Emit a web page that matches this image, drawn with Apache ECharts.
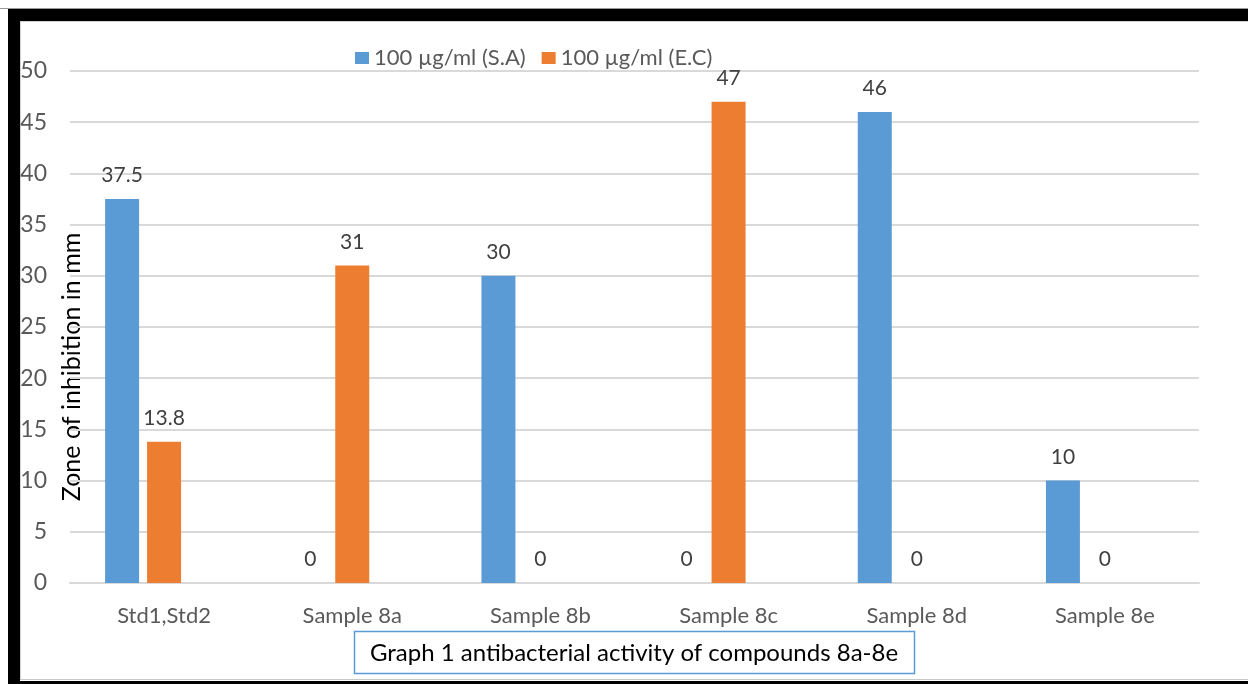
<!DOCTYPE html>
<html>
<head>
<meta charset="utf-8">
<script src="https://cdn.jsdelivr.net/npm/echarts@6/dist/echarts.min.js"></script>
<style>
html,body{margin:0;padding:0;background:#fff;}
#chart{width:1248px;height:684px;}
</style>
</head>
<body>
<div id="chart"></div>
<script>
const categories = ['Std1,Std2', 'Sample 8a', 'Sample 8b', 'Sample 8c', 'Sample 8d', 'Sample 8e'];
const seriesNames = ['100 µg/ml (S.A)', '100 µg/ml (E.C)'];
const saValues = [37.5, 0, 30, 0, 46, 10];
const ecValues = [13.8, 31, 0, 47, 0, 0];
const emptyValues = [null, null, null, null, null, null];
const yTicks = { min: 0, max: 50, interval: 5 };
const yAxisName = 'Zone of inhibition in mm';
const captionText = 'Graph 1 antibacterial activity of compounds 8a-8e';

const FONT = 'Lato, "Open Sans", sans-serif';
const chart = echarts.init(document.getElementById('chart'), null, { renderer: 'canvas' });

const labelCfg = {
  show: true, position: 'top', distance: 13,
  color: '#404040', fontSize: 21, fontFamily: FONT
};

chart.setOption({
  backgroundColor: '#ffffff',
  animation: false,
  grid: { left: 70, right: 49, top: 71, bottom: 101, containLabel: false },
  legend: {
    data: seriesNames,
    left: 350, top: 42,
    itemWidth: 14, itemHeight: 12, itemGap: 16,
    icon: 'rect',
    textStyle: { color: '#595959', fontSize: 22, fontFamily: FONT }
  },
  xAxis: {
    type: 'category',
    data: categories,
    axisLine: { show: true, lineStyle: { color: '#d9d9d9', width: 2 } },
    axisTick: { show: false },
    axisLabel: { color: '#595959', fontSize: 22, fontFamily: FONT, margin: 22 }
  },
  yAxis: {
    type: 'value',
    min: yTicks.min, max: yTicks.max, interval: yTicks.interval,
    axisLine: { show: false },
    axisTick: { show: false },
    splitLine: { lineStyle: { color: '#d9d9d9', width: 2 } },
    axisLabel: { color: '#595959', fontSize: 23, fontFamily: FONT, margin: 23 }
  },
  series: [
    { name: seriesNames[0], type: 'bar', data: saValues, barWidth: 34, barGap: '23.5%',
      itemStyle: { color: '#5B9BD5' }, label: labelCfg },
    { name: seriesNames[1], type: 'bar', data: ecValues, barWidth: 34, barGap: '23.5%',
      itemStyle: { color: '#ED7D31' }, label: labelCfg },
    { name: '', type: 'bar', data: emptyValues, barWidth: 34, barGap: '23.5%',
      itemStyle: { color: '#A5A5A5' }, label: { show: false } }
  ],
  graphic: [
    { type: 'rect', shape: { x: 0, y: 8, width: 1248, height: 1 }, style: { fill: '#9a9a9a' }, silent: true },
    { type: 'rect', shape: { x: 8, y: 9, width: 1240, height: 12 }, style: { fill: '#000' }, silent: true },
    { type: 'rect', shape: { x: 20, y: 21, width: 1228, height: 1 }, style: { fill: '#d0d0d0' }, silent: true },
    { type: 'rect', shape: { x: 8, y: 9, width: 12, height: 675 }, style: { fill: '#000' }, silent: true },
    { type: 'rect', shape: { x: 20, y: 21, width: 1, height: 659 }, style: { fill: '#d0d0d0' }, silent: true },
    { type: 'rect', shape: { x: 20, y: 679, width: 1228, height: 1 }, style: { fill: '#c8c8c8' }, silent: true },
    { type: 'rect', shape: { x: 8, y: 681, width: 1240, height: 3 }, style: { fill: '#000' }, silent: true },
    { type: 'text', rotation: Math.PI / 2, x: 72, y: 367,
      style: { text: yAxisName, fill: '#000', fontSize: 25, fontFamily: FONT, align: 'center', verticalAlign: 'middle' } },
    { type: 'rect', shape: { x: 354.5, y: 631.5, width: 560, height: 42 },
      style: { fill: '#fff', stroke: '#5B9BD5', lineWidth: 1.5 } },
    { type: 'text', x: 634, y: 653,
      style: { text: captionText, fill: '#000', fontSize: 24, fontFamily: FONT, align: 'center', verticalAlign: 'middle' } }
  ]
});
</script>
</body>
</html>
